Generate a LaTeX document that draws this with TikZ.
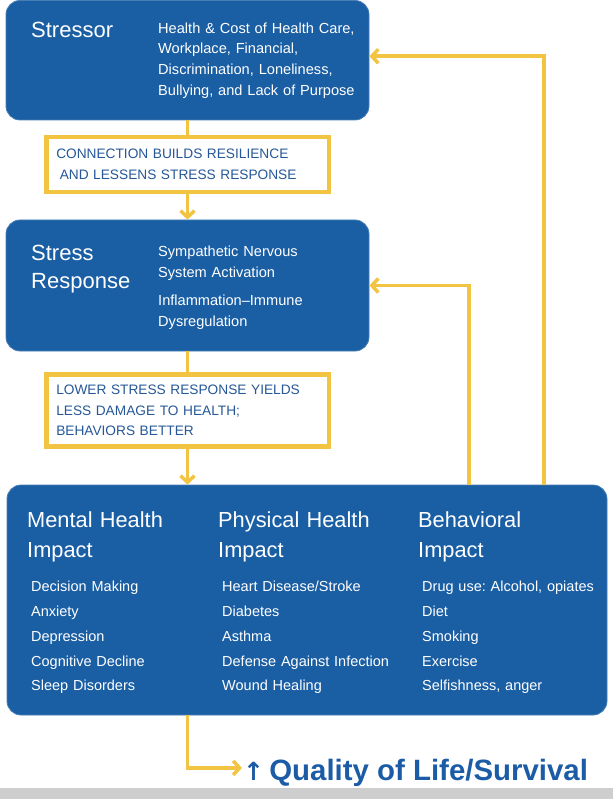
\documentclass[tikz,border=0pt]{standalone}
\usepackage{fontspec}
\setmainfont{Liberation Sans}
\newfontfamily\arrowfont{DejaVu Sans}
\usetikzlibrary{arrows.meta}
\frenchspacing

\definecolor{boxblue}{RGB}{26,94,164}
\definecolor{linkyellow}{RGB}{243,196,66}
\definecolor{linktext}{RGB}{38,88,152}
\definecolor{qoltext}{RGB}{28,92,166}
\definecolor{bandgray}{RGB}{206,206,206}

\begin{document}
\begin{tikzpicture}[x=1pt, y=-1pt,
    bluebox/.style={fill=boxblue, draw=boxblue!80!white, line width=0.8pt, rounded corners=14pt, inner sep=0pt},
    linkbox/.style={draw=linkyellow, line width=4.5pt, fill=white, inner xsep=10pt, inner ysep=0pt, text width=262.5pt, align=left, text=linktext, font=\fontsize{13.7}{20.5}\selectfont},
    titletext/.style={anchor=base west, inner sep=0pt, text=white, text width=190pt, align=left, font=\fontsize{22}{28}\selectfont},
    headtext/.style={titletext, font=\fontsize{21.8}{30}\selectfont},
    listtext/.style={anchor=base west, inner sep=0pt, text=white, text width=205pt, align=left, font=\fontsize{14.6}{20.6}\selectfont},
    itemtext/.style={listtext, text width=185pt, font=\fontsize{14.5}{24.8}\selectfont},
    link/.style={draw=linkyellow, line width=3.5pt},
    feed/.style={link, -{Straight Barb[length=6.5pt,width=14pt]}}
  ]
  \useasboundingbox (0,0) rectangle (613,799);
  % Draw the grey band at the bottom
  \fill[bandgray] (0,788) rectangle (613,799);

  % Draw the three blue boxes
  \node[bluebox, minimum width=363pt, minimum height=119.5pt] (stressor) at (187.5,60.25) {};
  \node[bluebox, minimum width=363pt, minimum height=131pt] (response) at (187.5,285.5) {};
  \node[bluebox, minimum width=600pt, minimum height=230pt] (impact) at (307,600) {};

  % Texts of the top boxes
  \node[titletext] (stressortitle) at (31,37.3) {Stressor};
  \node[listtext] (stressorlist) at (158,33.3) {Health \& Cost of Health Care,\\ Workplace, Financial,\\ Discrimination, Loneliness,\\ Bullying, and Lack of Purpose};
  \node[titletext] (responsetitle) at (31,261) {Stress\\ Response};
  \node[listtext] (responselist) at (158,257) {Sympathetic Nervous\\ System Activation\\[7.4pt] Inflammation--Immune\\ Dysregulation};

  % Texts of the impact box
  \node[headtext] (mentalhead) at (27,527) {Mental Health\\ Impact};
  \node[headtext] (physicalhead) at (218,527) {Physical Health\\ Impact};
  \node[headtext] (behaviorhead) at (418,527) {Behavioral\\ Impact};
  \node[itemtext] (mentallist) at (31,591.7) {Decision Making\\ Anxiety\\ Depression\\ Cognitive Decline\\ Sleep Disorders};
  \node[itemtext] (physicallist) at (222,591.7) {Heart Disease/Stroke\\ Diabetes\\ Asthma\\ Defense Against Infection\\ Wound Healing};
  \node[itemtext] (behaviorlist) at (422,591.7) {Drug use: Alcohol, opiates\\ Diet\\ Smoking\\ Exercise\\ Selfishness, anger};

  % Draw the yellow boxes
  \node[linkbox, minimum height=55pt] (link1) at (187.5,164.5) {CONNECTION BUILDS RESILIENCE\\ \hspace*{3.5pt}AND LESSENS STRESS RESPONSE};
  \node[linkbox, minimum height=72pt] (link2) at (187.5,410.5) {LOWER STRESS RESPONSE YIELDS\\ LESS DAMAGE TO HEALTH;\\ BEHAVIORS BETTER};

  % Outcome
  \node[anchor=base west, inner sep=0pt, text=qoltext, font=\fontsize{29.4}{34}\selectfont\bfseries] (qol) at (246,780) {\makebox[15pt][c]{\arrowfont\fontsize{25}{34}\selectfont ↑} Quality of Life/Survival};

  % Draw the arrows
  \coordinate (back1) at (469,0);
  \coordinate (back2) at (544,0);
  \draw[link] (stressor.south) -- (link1.north);
  \draw[feed] (link1.south) -- (response.north);
  \draw[link] (response.south) -- (link2.north);
  \draw[feed] (link2.south) -- (impact.north -| link2.south);
  \draw[feed] (impact.north -| back1) |- (response.east);
  \draw[feed] (impact.north -| back2) |- ([yshift=4pt]stressor.east);
  \draw[feed] (impact.south -| link2.south) |- ([xshift=-4pt,yshift=4.5pt]qol.west);
\end{tikzpicture}
\end{document}
